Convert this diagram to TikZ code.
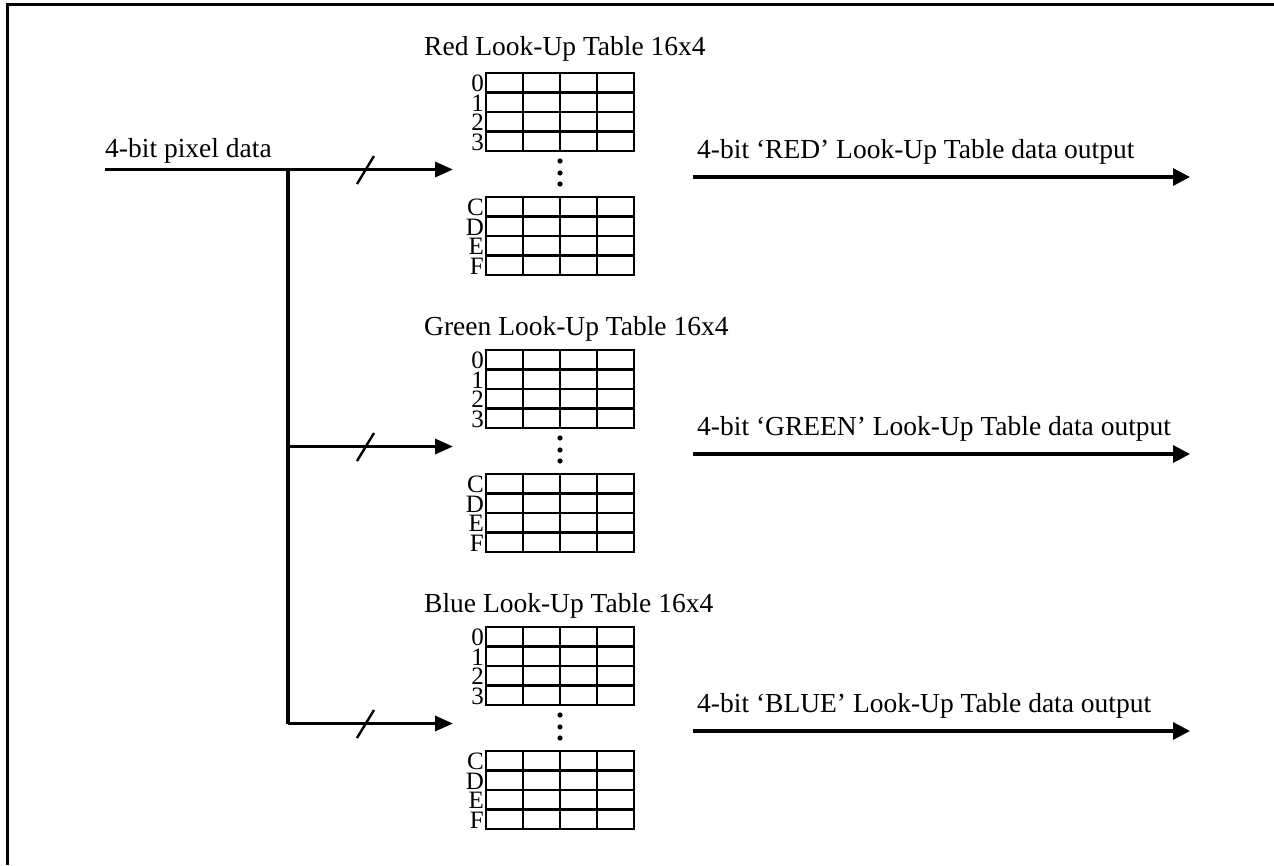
\documentclass[tikz,border=0pt]{standalone}
\usepackage{fontspec}
\setmainfont{Liberation Serif}
\usetikzlibrary{arrows.meta}
\newcommand\lutsection[5]{%
  % #1 name, #2 title, #3 offset, #4 output label, #5 title shift
  \node[txt,anchor=base west] (#1title) at (424,55+#3+#5) {#2};
  % top block
  \draw[gridline] (486,73+#3) rectangle (634,151+#3);
  \foreach \k in {1,2,3} {\draw[gridline] (486,73+19.5*\k+#3) -- (634,73+19.5*\k+#3);}
  \foreach \xx in {523,560,597} {\draw[gridline] (\xx,73+#3) -- (\xx,151+#3);}
  % bottom block
  \draw[gridline] (486,197+#3) rectangle (634,275+#3);
  \foreach \k in {1,2,3} {\draw[gridline] (486,197+19.5*\k+#3) -- (634,197+19.5*\k+#3);}
  \foreach \xx in {523,560,597} {\draw[gridline] (\xx,197+#3) -- (\xx,275+#3);}
  % row labels
  \foreach \lab [count=\i from 0] in {0,1,2,3} {\node[rowlab] (#1r\lab) at (484,83.5+19.5*\i+#3) {\lab};}
  \foreach \lab [count=\i from 0] in {C,D,E,F} {\node[rowlab] (#1r\lab) at (484,207.5+19.5*\i+#3) {\lab};}
  % dots
  \foreach \yy in {161,173,184} {\fill (560,\yy+#3) circle (2.6);}
  % output
  \node[txt,anchor=base west] (#1outlab) at (697,158+#3) {#4};
  \coordinate (#1os) at (693,177+#3);
  \coordinate (#1oe) at (1190,177+#3);
  \draw[outarrow] (#1os) -- (#1oe);
}
\begin{document}
\begin{tikzpicture}[x=1pt,y=-1pt,
  txt/.style={font=\fontsize{27.5}{30}\selectfont, inner sep=0pt},
  wire/.style={line width=3.3pt},
  gridline/.style={line width=2.4pt},
  slash/.style={line width=2.4pt},
  inarrow/.style={wire,-{Triangle[length=18pt,width=15pt]}},
  outarrow/.style={wire,-{Triangle[length=17pt,width=17pt]}},
  frame/.style={line width=3pt},
  rowlab/.style={font=\fontsize{25}{25}\selectfont, inner sep=0pt, anchor=east}]
\useasboundingbox (0,0) rectangle (1274,865);
% frame
\draw[frame] (7,865) -- (7,4.5) -- (1274,4.5);
% sections
\lutsection{red}{Red Look-Up Table 16x4}{0}{4-bit ‘RED’ Look-Up Table data output}{0}
\lutsection{green}{Green Look-Up Table 16x4}{277}{4-bit ‘GREEN’ Look-Up Table data output}{3}
\lutsection{blue}{Blue Look-Up Table 16x4}{554}{4-bit ‘BLUE’ Look-Up Table data output}{3}
% input
\node[txt,anchor=base west] (inlab) at (105,157) {4-bit pixel data};
\coordinate (in) at (105,169.5);
\coordinate (j0) at (288,169.5);
\coordinate (j1) at (288,446.5);
\coordinate (j2) at (288,723.5);
\coordinate (e0) at (453,169.5);
\coordinate (e1) at (453,446.5);
\coordinate (e2) at (453,723.5);
\draw[inarrow] (in) -- (e0);
\draw[wire] (j0) -- (j2);
\draw[inarrow] (j1) -- (e1);
\draw[inarrow] (j2) -- (e2);
\foreach \d in {0,277,554} {\draw[slash] (357,184+\d) -- (374,156+\d);}
\end{tikzpicture}
\end{document}
